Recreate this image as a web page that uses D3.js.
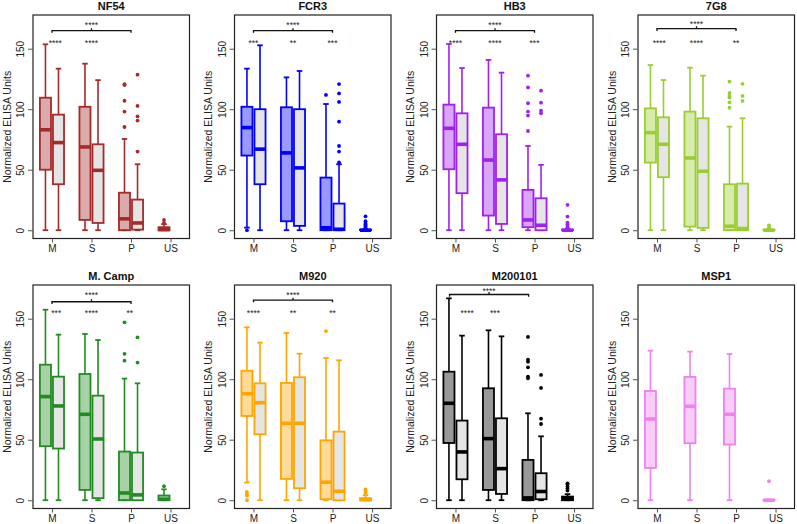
<!DOCTYPE html>
<html><head><meta charset="utf-8">
<script src="https://cdn.jsdelivr.net/npm/d3@7"></script>
<style>body{margin:0;background:#fff} text{font-family:"Liberation Sans",Arial,sans-serif}</style>
</head><body><svg id="c" width="797" height="524"></svg>
<script>
// ---------- DATA ----------
const panels = ["NF54","FCR3","HB3","7G8","M. Camp","M920","M200101","MSP1"];
const groups = ["M","S","P","US"];
const yTicks = [0,50,100,150];
const yLabel = "Normalized ELISA Units";
// box stats per group: [low whisker, Q1, median, Q3, high whisker]
const colouredStats = [
  [[0,50,83,109.5,153.6],[0,8.5,68.8,102,137.6],[0,0,9.4,31,75.4],[0,0,0.5,2.5,5]],
  [[2.2,61.7,84.8,102,133.5],[0,7.4,63.9,101.6,126.3],[0,0,2,43.5,104.3],[0,0,0,0.5,1]],
  [[0,50.4,84.2,103.8,153.9],[0,12.1,58,101.3,140.7],[0,2.5,8.5,33.3,69.6],[0,0,0,0.5,1]],
  [[0,55.9,80.6,100.7,136.5],[0,3,59.7,98,134.3],[0,0,3.3,38,85.6],[0,0,0,0.5,1]],
  [[0,44.6,85.6,112,157.4],[0,8.5,71,104.3,137.4],[0,0,6,40.2,100.5],[0,0,0.8,3.9,9]],
  [[14.6,69.6,88,107,142.9],[0,17.6,63.6,96.9,138.2],[0,0.8,14.9,49.5,117.5],[0,0,0.5,1.7,4.1]],
  [[0,47.3,80.1,106.2,166.8],[0,8.5,50.9,92.5,140.4],[0,0,1.9,33.3,71.8],[0,0,1.4,3,5]],
  [[0,26.7,67.1,90.3,123.6],[0,47.1,77.6,101.9,122.8],[0,46,71,92.2,120.8],[0,0,0,0.3,0.5]]
];
const greyStats = [
  [[0,38,72.4,95.5,133.5],[0,6,49.5,71,124],[0,0.5,6,25.3,54.5]],
  [[0,38,67,100,152.8],[0,3.6,51.5,100,131.6],[0,0,0.8,22,54.5]],
  [[0,30.6,71,96.6,134],[0,5.2,41.6,79.3,130.2],[0,0,4.1,26.4,54]],
  [[0,43.8,71,93.3,124.1],[0,1.9,48.7,92.5,127.7],[0,0,1.4,38.5,92.5]],
  [[0,42.7,77.9,102.1,136.8],[0,1.7,50.6,86.4,132.4],[0,0,4.4,39.4,96.6]],
  [[0,54.5,80.6,96.6,130.2],[0,9.9,63.6,101.6,121.1],[0,0,7.4,56.7,115.6]],
  [[0,17.3,39.9,65.8,136],[0,5.2,26.1,67.7,135.4],[0,0.8,7.2,22.3,52.8]],
  []
];
const colouredOutliers = [
  [[],[],[120.6,120,107,98,85.3],[8.5,6]],
  [[0],[],[111.8],[11.5,7.5,6,5,4,3,2]],
  [[],[],[127.7,118,104.9,98,94.7,82],[21,11.3,6.3,5,3.5,2.5,1.5]],
  [[],[],[122.8,113.4,111,109.6,105.7,101.3],[3.9,2.2,1.5]],
  [[],[],[147,121,115.3],[11.6]],
  [[6.9,5.2,3.6,0],[],[139.8],[9,7.4,6]],
  [[],[],[134.9,116.2,114.5,109.8,102.1,100.7],[14,13,11.3,9.6,8]],
  [[],[],[],[15.7]]
];
const greyOutliers = [
  [[],[],[128.5,102.7,94,90.6,65]],
  [[],[],[120.8,113,106,89.7,69.6,65,56]],
  [[],[],[115.3,105.4,98.8,96.6]],
  [[],[],[121,111,106.8]],
  [[],[],[134.6,113.7]],
  [[],[],[]],
  [[],[],[103.5,92.8,67.4,63]],
  []
];
// significance labels per group (M, S, P)
const pairStars = [
  ["****","****",""],
  ["***","**","***"],
  ["****","****","***"],
  ["****","****","**"],
  ["***","****","**"],
  ["****","**","**"],
  ["****","***",""],
  ["","",""]
];
const bracketStars = ["****","****","****","****","****","****","****",""];
const bracketLevel = [165,165,165,166.5,164,165.4,170,null];
const bracketLabelLevel = [171,171,171,172,171,171,174.3,null];

// ---------- STYLE / LAYOUT ----------
const borderCols = ["#A52A2A","#0000FF","#A020F0","#9ACD32","#228B22","#FFA500","#000000","#EE82EE"];
const greyFill = "#E5E5E5";
const colLeft = [33,234.5,436.5,638], rowTop = [15,285], pw = 156.5, ph = 223.5;
const starNudge = [[3.3,0,0],[0,0,0],[0,0,0],[2.3,0,0],[4.3,0,-1.3],[0,0,0],[11.7,0,0],[0,0,0]];
const bracketShift = [0,0,0,0,0,0,-0.15,0];
const offset = 0.165, boxW = 0.28;

const svg = d3.select("#c");

panels.forEach((name,i)=>{
  const r = Math.floor(i/4), c = i%4;
  const g = svg.append("g").attr("transform",`translate(${colLeft[c]},${rowTop[r]})`);
  const x = d3.scaleLinear().domain([0.52,4.48]).range([0,pw]);
  const y = d3.scaleLinear().domain([-6.84,177.84]).range([ph,0]);
  const col = borderCols[i];
  const bw = x(boxW)-x(0);

  function drawBox(cx, s, fill, fillOp, outs){
    const [lo,q1,md,q3,hi] = s;
    const bg = g.append("g");
    bg.append("line").attr("x1",cx).attr("x2",cx).attr("y1",y(q3)).attr("y2",y(hi)).attr("stroke",col).attr("stroke-width",1.6);
    bg.append("line").attr("x1",cx).attr("x2",cx).attr("y1",y(q1)).attr("y2",y(lo)).attr("stroke",col).attr("stroke-width",1.6);
    [hi,lo].forEach(v=>bg.append("line").attr("x1",cx-bw/4).attr("x2",cx+bw/4).attr("y1",y(v)).attr("y2",y(v)).attr("stroke",col).attr("stroke-width",1.8));
    bg.append("rect").attr("x",cx-bw/2).attr("width",bw).attr("y",y(q3)).attr("height",Math.max(0,y(q1)-y(q3)))
      .attr("fill",fill).attr("fill-opacity",fillOp).attr("stroke",col).attr("stroke-width",1.8);
    bg.append("line").attr("x1",cx-bw/2).attr("x2",cx+bw/2).attr("y1",y(md)).attr("y2",y(md)).attr("stroke",col).attr("stroke-width",3.6);
    bg.selectAll("circle.o").data(outs).enter().append("circle").attr("class","o")
      .attr("cx",cx).attr("cy",d=>y(d)).attr("r",1.9).attr("fill",col);
  }

  groups.forEach((gr,k)=>{
    const pos = k+1;
    drawBox(x(pos-offset), colouredStats[i][k], col, 0.4, colouredOutliers[i][k]);
    if (greyStats[i][k]) drawBox(x(pos+offset), greyStats[i][k], greyFill, 1, greyOutliers[i][k]);
  });

  // frame
  g.append("rect").attr("width",pw).attr("height",ph).attr("fill","none").attr("stroke","#222").attr("stroke-width",1.2);

  // y axis
  const ya = g.append("g").call(d3.axisLeft(y).tickValues(yTicks).tickSize(5));
  ya.select(".domain").remove();
  ya.selectAll(".tick line").attr("stroke","#555");
  ya.selectAll(".tick text").attr("x",null).attr("dy",null)
    .attr("transform","translate(-12.5,0) rotate(-90)").attr("text-anchor","middle")
    .attr("dominant-baseline","central").attr("font-size",10).attr("fill","#222")
    .style("font-family","'Liberation Sans',Arial,sans-serif");
  // x axis
  const xa = g.append("g").attr("transform",`translate(0,${ph})`)
    .call(d3.axisBottom(x).tickValues([1,2,3,4]).tickFormat(v=>groups[v-1]).tickSize(4));
  xa.select(".domain").remove();
  xa.selectAll(".tick line").attr("stroke","#555");
  xa.selectAll(".tick text").attr("y",6).attr("font-size",10).attr("fill","#222")
    .style("font-family","'Liberation Sans',Arial,sans-serif");

  // labels
  g.append("text").attr("transform",`translate(-26.3,${ph/2}) rotate(-90)`).attr("text-anchor","middle")
    .attr("dominant-baseline","central").attr("font-size",10.5).attr("fill","#222").text(yLabel);
  g.append("text").attr("x",pw/2).attr("y",-5.5).attr("text-anchor","middle").attr("font-size",11)
    .attr("font-weight","bold").attr("fill","#111").text(name);

  // pair stars
  pairStars[i].forEach((s,k)=>{
    if(!s) return;
    g.append("text").attr("x",x(k+1)+starNudge[i][k]).attr("y",y(156.5)+4.8).attr("text-anchor","middle")
      .attr("font-size",8.5).attr("fill","#222").text(s);
  });
  // bracket
  if (bracketLevel[i]!==null){
    const b = bracketLevel[i], sh = bracketShift[i];
    const xa1 = x(1+sh), xa2 = x(3+sh), xm = x(2+sh);
    const path = d3.path();
    path.moveTo(xa1, y(b)+2.2); path.lineTo(xa1, y(b)); path.lineTo(xa2, y(b)); path.lineTo(xa2, y(b)+2.2);
    path.moveTo(xm, y(b)); path.lineTo(xm, y(b)-2.4);
    g.append("path").attr("d",path.toString()).attr("fill","none").attr("stroke","#111").attr("stroke-width",1.3);
    g.append("text").attr("x",xm).attr("y",y(bracketLabelLevel[i])+4.8).attr("text-anchor","middle")
      .attr("font-size",8.5).attr("fill","#222").text(bracketStars[i]);
  }
});
</script></body></html>
